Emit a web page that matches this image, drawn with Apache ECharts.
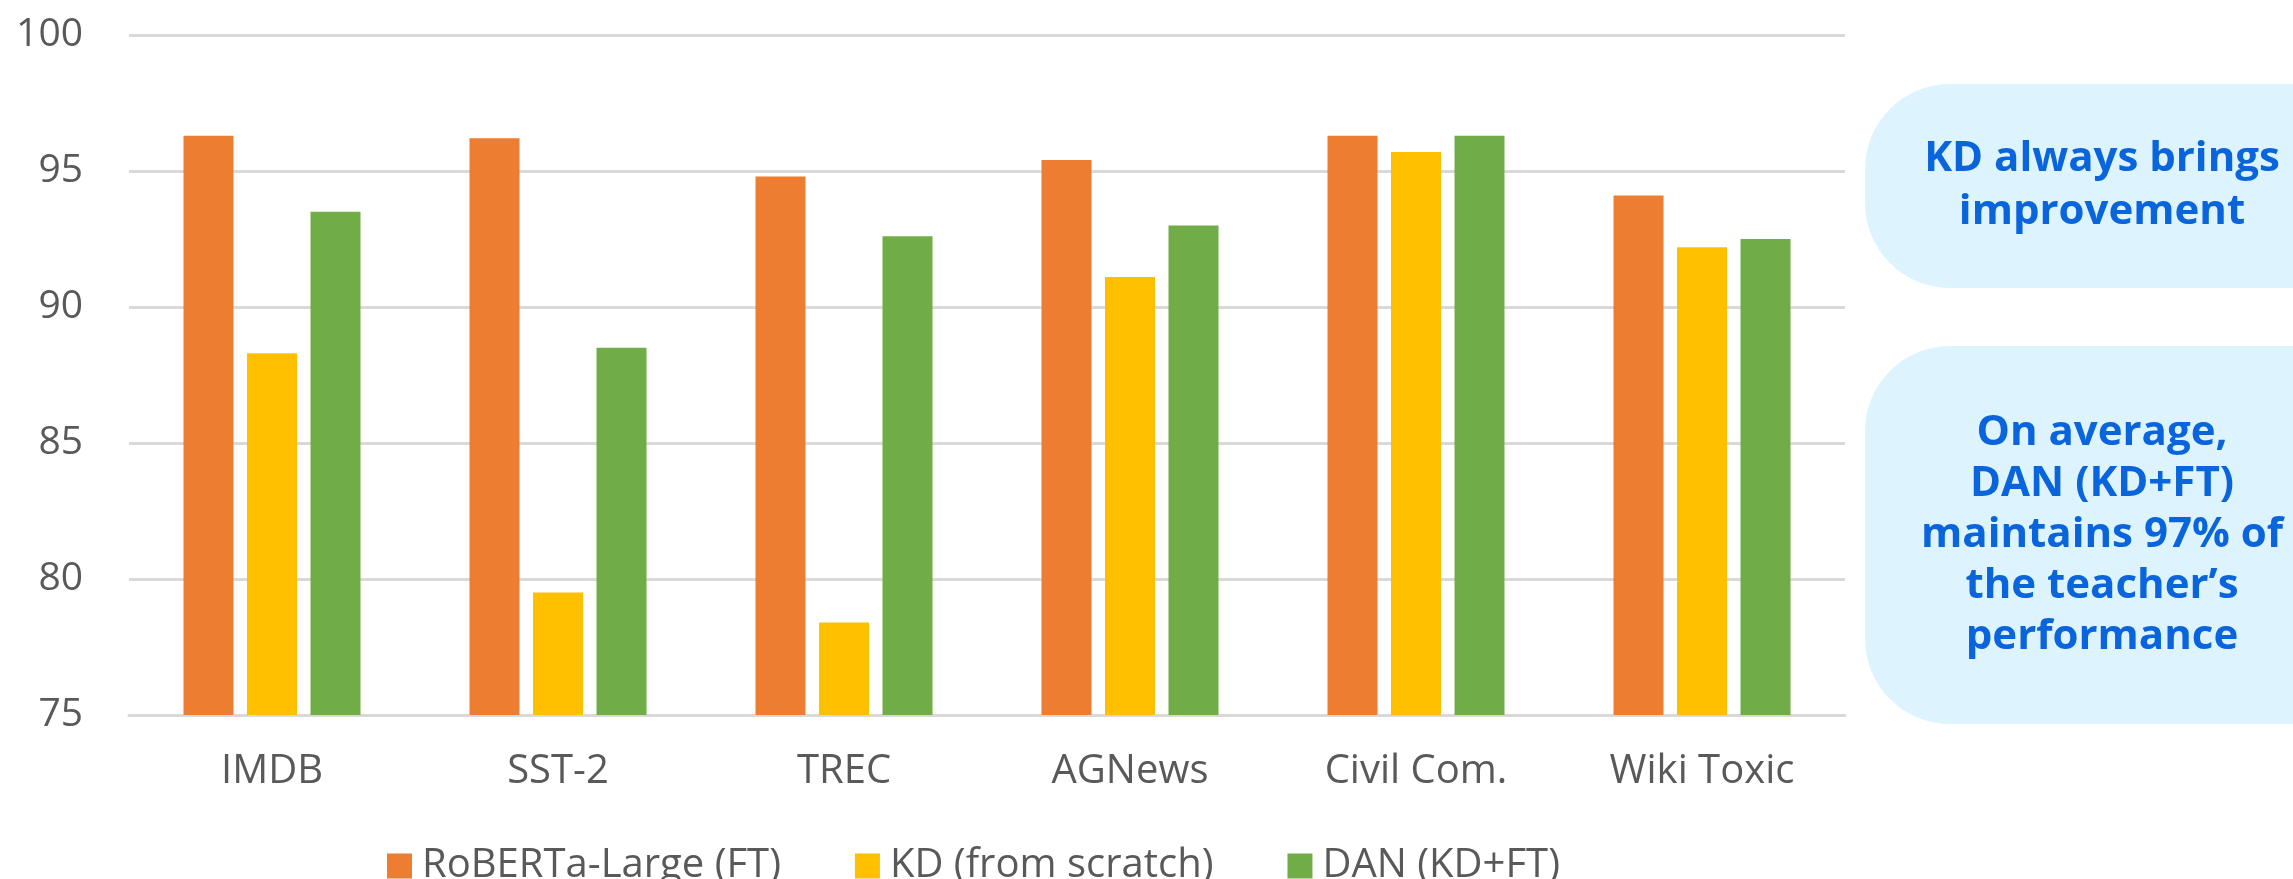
<!DOCTYPE html>
<html>
<head>
<meta charset="utf-8">
<script src="https://cdn.jsdelivr.net/npm/echarts@6/dist/echarts.min.js"></script>
<style>
  html, body { margin: 0; padding: 0; background: #ffffff; }
  #chart { width: 2293px; height: 879px; }
</style>
</head>
<body>
<div id="chart"></div>
<script>
// Datasets on the x axis
const categories = ['IMDB', 'SST-2', 'TREC', 'AGNews', 'Civil Com.', 'Wiki Toxic'];

// Accuracy per dataset for each model
const robertaFT = [96.3, 96.2, 94.8, 95.4, 96.3, 94.1];
const kdScratch = [88.3, 79.5, 78.4, 91.1, 95.7, 92.2];
const danKDFT   = [93.5, 88.5, 92.6, 93.0, 96.3, 92.5];

const seriesNames = ['RoBERTa-Large (FT)', 'KD (from scratch)', 'DAN (KD+FT)'];

// Value axis range
const yMin = 75, yMax = 100, yStep = 5;

// Side notes
const noteOne = ['KD always brings', 'improvement'];
const noteTwo = ['On average,', 'DAN (KD+FT)', 'maintains 97% of', 'the teacher\u2019s', 'performance'];

const FONT = '"Open Sans", "Noto Sans", sans-serif';
const colors = ['#ED7D31', '#FFC000', '#70AD47'];

const chart = echarts.init(document.getElementById('chart'), null, { renderer: 'canvas' });

function barSeries(name, data, color) {
  return {
    name: name,
    type: 'bar',
    data: data,
    barWidth: 50,
    barGap: '27%',
    itemStyle: { color: color },
    emphasis: { disabled: true }
  };
}

const option = {
  animation: false,
  backgroundColor: '#ffffff',
  grid: { left: 129, right: 448, top: 35, bottom: 164, containLabel: false },
  legend: {
    left: 382,
    top: 841,
    itemWidth: 25,
    itemHeight: 25,
    itemGap: 74,
    icon: 'rect',
    textStyle: {
      fontFamily: FONT,
      fontSize: 40,
      color: '#595959',
      lineHeight: 40,
      padding: [0, 0, 0, 5]
    },
    data: seriesNames
  },
  xAxis: {
    type: 'category',
    data: categories,
    axisTick: { show: false },
    axisLine: { show: true, lineStyle: { color: '#D9D9D9', width: 3 } },
    axisLabel: {
      fontFamily: FONT,
      fontSize: 40,
      color: '#595959',
      margin: 37
    }
  },
  yAxis: {
    type: 'value',
    min: yMin,
    max: yMax,
    interval: yStep,
    axisLine: { show: false },
    axisTick: { show: false },
    splitLine: { lineStyle: { color: '#D9D9D9', width: 3 } },
    axisLabel: {
      fontFamily: FONT,
      fontSize: 39,
      color: '#595959',
      margin: 46
    }
  },
  series: [
    barSeries(seriesNames[0], robertaFT, colors[0]),
    barSeries(seriesNames[1], kdScratch, colors[1]),
    barSeries(seriesNames[2], danKDFT, colors[2])
  ],
  graphic: [
    {
      type: 'rect',
      shape: { x: 1865, y: 84, width: 520, height: 204, r: 85 },
      style: { fill: '#DDF4FE' },
      silent: true
    },
    {
      type: 'text',
      x: 2102,
      y: 186,
      style: {
        text: noteOne.join('\n'),
        font: 'bold 42px ' + FONT,
        fill: '#0A64DC',
        align: 'center',
        verticalAlign: 'middle',
        lineHeight: 53
      },
      silent: true
    },
    {
      type: 'rect',
      shape: { x: 1865, y: 346, width: 520, height: 378, r: 85 },
      style: { fill: '#DDF4FE' },
      silent: true
    },
    {
      type: 'text',
      x: 2102,
      y: 535,
      style: {
        text: noteTwo.join('\n'),
        font: 'bold 42px ' + FONT,
        fill: '#0A64DC',
        align: 'center',
        verticalAlign: 'middle',
        lineHeight: 51
      },
      silent: true
    }
  ]
};

chart.setOption(option);
</script>
</body>
</html>
